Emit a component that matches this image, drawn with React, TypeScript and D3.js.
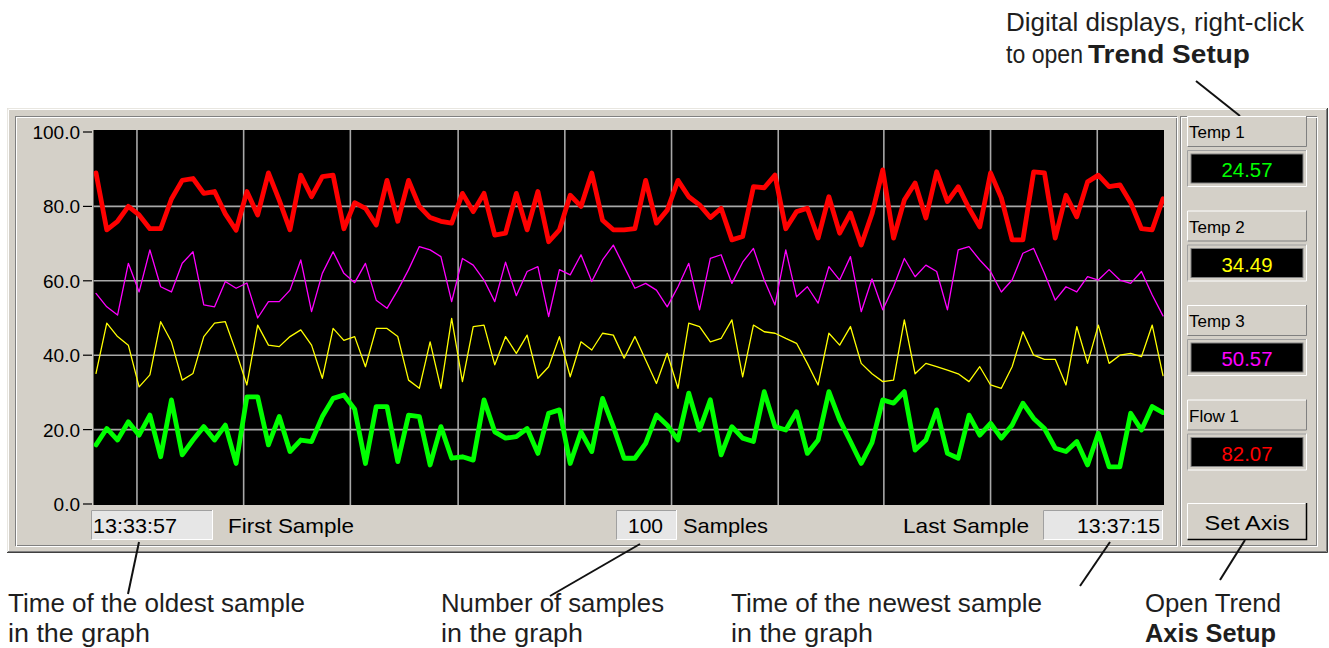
import React from "react";
import * as d3 from "d3";

// ---- data ----
const flow1 = [89, 73.7, 76, 80, 77.7, 74, 74, 82, 87, 87.5, 83.5, 84, 78, 73.6, 84, 77.7, 89, 81.7, 73.7, 88.4,
  82.6, 88, 88.4, 74, 81, 79.5, 75, 87, 76, 87, 80, 77, 76, 75.5, 83.5, 78.6, 83.5, 72.3, 72.8, 83.5,
  73.7, 84, 70.5, 73.7, 83, 80, 89, 76.3, 73.7, 73.7, 74, 87, 75.5, 79, 87, 82.6, 80.4, 77, 79.5, 71,
  71.9, 85.3, 85, 88.4, 74, 78.6, 79.5, 71.5, 82.6, 72.8, 78.2, 69.6, 78, 89.8, 71.5, 81.7, 86.3, 76.9, 89.3, 81.3,
  85.3, 79.5, 74.5, 89, 82.3, 71, 71, 89.3, 89, 71.5, 83, 77.2, 86.6, 88.4, 85.3, 85.8, 81, 74, 73.7, 82.07];
const temp3 = [56.6, 53, 50.8, 64.7, 57, 68.3, 58.4, 57, 64.7, 67.8, 53.5, 53, 59.8, 58, 59.4, 50, 54.4, 54.4, 57.5, 65.6,
  51.7, 62, 67.8, 62, 59.5, 64.7, 54.8, 52.6, 57.5, 63, 69.2, 68.3, 66.5, 54.4, 66, 64.2, 60.2, 54.4, 65, 56,
  62.5, 63.8, 50.4, 63, 61.6, 67, 59.8, 65.6, 69.6, 63.8, 58, 59.3, 57.5, 53, 58.4, 64.7, 52.2, 66, 67, 59.3,
  65, 68.7, 60.2, 53.5, 68.3, 55.7, 58.4, 54, 63.8, 60.2, 66.5, 51.7, 60.5, 52.2, 58.4, 66, 61.1, 64.2, 62.5, 52.2,
  68.3, 69.2, 65.6, 62.5, 57, 60.2, 67.4, 68.7, 62, 54.8, 58.4, 57, 61.1, 60.2, 63, 60.2, 59.3, 62.5, 56.2, 50.57];
const temp2 = [35.1, 48.6, 45, 42.7, 31.5, 34.7, 49, 43.6, 33.3, 35.1, 45, 48.6, 49, 40.9, 32, 48.1, 42.7, 42.3, 45, 46.8,
  42.7, 33.8, 47.2, 44, 45, 36.9, 47.2, 47.2, 45, 33.3, 31.1, 43.6, 31.1, 49.9, 32.9, 47.7, 48.1, 37.4, 45, 40.5,
  45.4, 33.8, 36.9, 45, 34.2, 43.6, 41.4, 45.9, 45.4, 39.2, 45, 38.7, 32.4, 40.5, 31.1, 48.6, 47.7, 43.6, 44.5, 49.5,
  34.2, 48.1, 46.3, 45.9, 44.5, 43.2, 37.8, 32, 45.9, 42.7, 47.7, 37.8, 35, 32.9, 33.3, 49.5, 35, 37.8, 36.9, 36,
  35, 32.9, 36.9, 32, 31.1, 36.9, 46.3, 40, 38.9, 38.9, 32, 47.7, 37.8, 48.1, 37.8, 40, 40.5, 39.6, 48.1, 34.49];
const temp1 = [15.9, 20.3, 17.2, 22.1, 18.5, 23.9, 12.7, 28, 13.2, 17.2, 20.8, 17.2, 21.2, 10.9, 28.8, 28.8, 15.9, 23.5, 14.1, 17.2,
  16.8, 23.5, 28.4, 29.3, 25.5, 10.9, 26.2, 26.2, 11.4, 23.9, 23.5, 10.5, 20.8, 12.3, 12.7, 11.8, 28, 19.4, 17.7, 18.1,
  20.3, 13.6, 24.4, 25.3, 10.9, 19.4, 14.1, 28.4, 20.8, 12.3, 12.3, 16.3, 23.9, 21.2, 17.2, 29.8, 19.9, 28, 13.2, 20.8,
  17.7, 16.8, 30.2, 20.8, 19.9, 24.8, 13.6, 17.2, 30.2, 22.6, 16.8, 10.9, 16.5, 28, 27.1, 30.2, 14.5, 17.2, 25.3, 13.6,
  12.3, 23.9, 18.5, 21.7, 17.7, 21.2, 27.1, 23, 20.3, 15, 14.1, 16.8, 10.5, 19, 10, 10, 24.4, 19.9, 26.2, 24.57];

const yTicks = [0, 20, 40, 60, 80, 100];
const yTickLabels = ["0.0", "20.0", "40.0", "60.0", "80.0", "100.0"];
const hGrid = [20, 40, 60, 80];
const vGridSamples = [3.8, 13.7, 23.6, 33.6, 43.5, 53.4, 63.3, 73.1, 83.0, 92.9];

const channelNames = ["Temp 1", "Temp 2", "Temp 3", "Flow 1"];
const channelValues = ["24.57", "34.49", "50.57", "82.07"];
const channelColors = ["#00ff00", "#ffff00", "#ff00ff", "#ff0000"];

const firstTime = "13:33:57";
const lastTime = "13:37:15";
const sampleCount = "100";

const FONT = "'Liberation Sans', Arial, sans-serif";
const PANEL = "#d4d0c8";

const series = [
  { values: temp1, color: "#00ff00", width: 4.8 },
  { values: temp2, color: "#ffff00", width: 1.3 },
  { values: temp3, color: "#ff00ff", width: 1.3 },
  { values: flow1, color: "#ff0000", width: 4.8 },
];

const PL = 93.5, PR = 1164, PT = 130, PB = 505;

function Raised({ x, y, w, h, dark = "#808080", outer = false }: any) {
  return (
    <g>
      <rect x={x} y={y} width={w} height={h} fill={PANEL} />
      <path d={`M${x + 0.5},${y + h} V${y + 0.5} H${x + w}`} stroke="#ffffff" fill="none" />
      <path d={`M${x + 0.5},${y + h - 0.5} H${x + w - 0.5} V${y}`} stroke={outer ? "#000" : dark} fill="none" strokeWidth={outer ? 1.5 : 1} />
    </g>
  );
}

function Sunken({ x, y, w, h, fill }: any) {
  return (
    <g>
      <rect x={x} y={y} width={w} height={h} fill={fill} />
      <path d={`M${x + 0.5},${y + h} V${y + 0.5} H${x + w}`} stroke="#a0a0a0" fill="none" />
      <path d={`M${x + 0.5},${y + h - 0.5} H${x + w - 0.5} V${y}`} stroke="#ffffff" fill="none" />
    </g>
  );
}

function Etched({ x, y, w, h }: any) {
  return (
    <g fill="none">
      <rect x={x + 0.5} y={y + 0.5} width={w} height={h} stroke="#808080" />
      <rect x={x + 1.5} y={y + 1.5} width={w} height={h} stroke="#ffffff" />
    </g>
  );
}

export default function App() {
  const x = d3.scaleLinear().domain([0, 99]).range([96, 1163]);
  const y = d3.scaleLinear().domain([0, 100]).range([504, 132]);
  const line = d3.line<number>().x((_, i) => x(i)).y((d) => y(d));

  const annot = { fontFamily: FONT, fontSize: 25, fill: "#1e1e1e" } as any;
  const ui = { fontFamily: FONT, fill: "#000" } as any;

  return (
    <svg width={1329} height={648} style={{ position: "absolute", left: 0, top: 0, display: "block", background: "#fff" }}>
      {/* top annotation */}
      <text x={1006} y={31} {...annot} textLength={298} lengthAdjust="spacingAndGlyphs">Digital displays, right-click</text>
      <text x={1006} y={63} {...annot} textLength={77} lengthAdjust="spacingAndGlyphs">to open</text>
      <text x={1088} y={63} {...annot} fontWeight="bold" textLength={162} lengthAdjust="spacingAndGlyphs">Trend Setup</text>

      {/* outer panel */}
      <rect x={7} y={108} width={1321} height={445} fill={PANEL} />
      <path d="M7.5,553 V108.5 H1328" stroke="#e8e6e0" fill="none" />
      <path d="M8.5,552 V109.5 H1327" stroke="#ffffff" fill="none" />
      <path d="M8,551.5 H1326.5 V109" stroke="#808080" fill="none" />
      <path d="M7,552.5 H1327.5 V108" stroke="#404040" fill="none" />
      <Etched x={15} y={116} w={1161} h={429} />
      <Etched x={1180} y={116} w={136} h={429} />

      <line x1={1196} y1={81} x2={1240} y2={116} stroke="#111" strokeWidth={2} />

      {/* plot area */}
      <defs>
        <clipPath id="plotclip">
          <rect x={PL} y={PT} width={PR - PL} height={PB - PT} />
        </clipPath>
      </defs>
      <rect x={PL} y={PT} width={PR - PL} height={PB - PT} fill="#000" />
      {hGrid.map((v) => (
        <line key={"h" + v} x1={PL} x2={PR} y1={y(v)} y2={y(v)} stroke="#a8a8a8" strokeWidth={1.6} />
      ))}
      {vGridSamples.map((s) => (
        <line key={"v" + s} x1={x(s)} x2={x(s)} y1={PT} y2={PB} stroke="#a8a8a8" strokeWidth={1.6} />
      ))}
      <g clipPath="url(#plotclip)">
        {series.map((s, i) => (
          <path key={i} d={line(s.values) || ""} fill="none" stroke={s.color} strokeWidth={s.width}
            strokeLinejoin="round" strokeLinecap="round" />
        ))}
      </g>

      {/* y axis */}
      {yTicks.map((v, i) => (
        <g key={"t" + v}>
          <line x1={83} x2={92} y1={y(v)} y2={y(v)} stroke="#000" strokeWidth={1.2} />
          <text x={80} y={y(v) + 7} textAnchor="end" {...ui} fontSize={19}>{yTickLabels[i]}</text>
        </g>
      ))}

      {/* bottom bar */}
      <Sunken x={91} y={510} w={122} h={30} fill="#e6e6e6" />
      <text x={93} y={533} {...ui} fontSize={21} textLength={84} lengthAdjust="spacingAndGlyphs">{firstTime}</text>
      <text x={228} y={533} {...ui} fontSize={21} textLength={126} lengthAdjust="spacingAndGlyphs">First Sample</text>
      <Sunken x={616} y={510} w={61} h={30} fill="#e6e6e6" />
      <text x={663} y={533} textAnchor="end" {...ui} fontSize={21}>{sampleCount}</text>
      <text x={683} y={533} {...ui} fontSize={21} textLength={85} lengthAdjust="spacingAndGlyphs">Samples</text>
      <text x={903} y={533} {...ui} fontSize={21} textLength={126} lengthAdjust="spacingAndGlyphs">Last Sample</text>
      <Sunken x={1043} y={510} w={120} h={30} fill="#e6e6e6" />
      <text x={1077} y={533} {...ui} fontSize={21} textLength={83} lengthAdjust="spacingAndGlyphs">{lastTime}</text>

      {/* right panel */}
      {channelNames.map((name, g) => {
        const top = 116 + g * 94.5;
        return (
          <g key={name}>
            <Raised x={1187} y={top} w={120} h={31} />
            <text x={1189} y={top + 22} {...ui} fontSize={17}>{name}</text>
            <Sunken x={1187} y={top + 34} w={120} h={37} fill={PANEL} />
            <rect x={1191} y={top + 38} width={112} height={29} fill="#000" stroke="#808080" strokeWidth={1} />
            <text x={1247} y={top + 61} textAnchor="middle" fontFamily={FONT} fontSize={20} fill={channelColors[g]}
              textLength={51} lengthAdjust="spacingAndGlyphs">{channelValues[g]}</text>
          </g>
        );
      })}
      <Raised x={1187} y={503} w={120} h={37} outer />
      <text x={1247} y={530} textAnchor="middle" {...ui} fontSize={21} textLength={85} lengthAdjust="spacingAndGlyphs">Set Axis</text>

      {/* bottom pointers */}
      <line x1={139} y1={542} x2={128} y2={594} stroke="#111" strokeWidth={2} />
      <line x1={640} y1={544} x2={550} y2={596} stroke="#111" strokeWidth={2} />
      <line x1={1110} y1={542} x2={1080} y2={586} stroke="#111" strokeWidth={2} />
      <line x1={1245} y1={540} x2={1220} y2={580} stroke="#111" strokeWidth={2} />

      {/* bottom annotations */}
      <text x={8} y={612} {...annot} textLength={297} lengthAdjust="spacingAndGlyphs">Time of the oldest sample</text>
      <text x={8} y={642} {...annot} textLength={142} lengthAdjust="spacingAndGlyphs">in the graph</text>
      <text x={441} y={612} {...annot} textLength={223} lengthAdjust="spacingAndGlyphs">Number of samples</text>
      <text x={441} y={642} {...annot} textLength={142} lengthAdjust="spacingAndGlyphs">in the graph</text>
      <text x={731} y={612} {...annot} textLength={311} lengthAdjust="spacingAndGlyphs">Time of the newest sample</text>
      <text x={731} y={642} {...annot} textLength={142} lengthAdjust="spacingAndGlyphs">in the graph</text>
      <text x={1145} y={612} {...annot} textLength={136} lengthAdjust="spacingAndGlyphs">Open Trend</text>
      <text x={1145} y={642} {...annot} fontWeight="bold" textLength={131} lengthAdjust="spacingAndGlyphs">Axis Setup</text>
    </svg>
  );
}
